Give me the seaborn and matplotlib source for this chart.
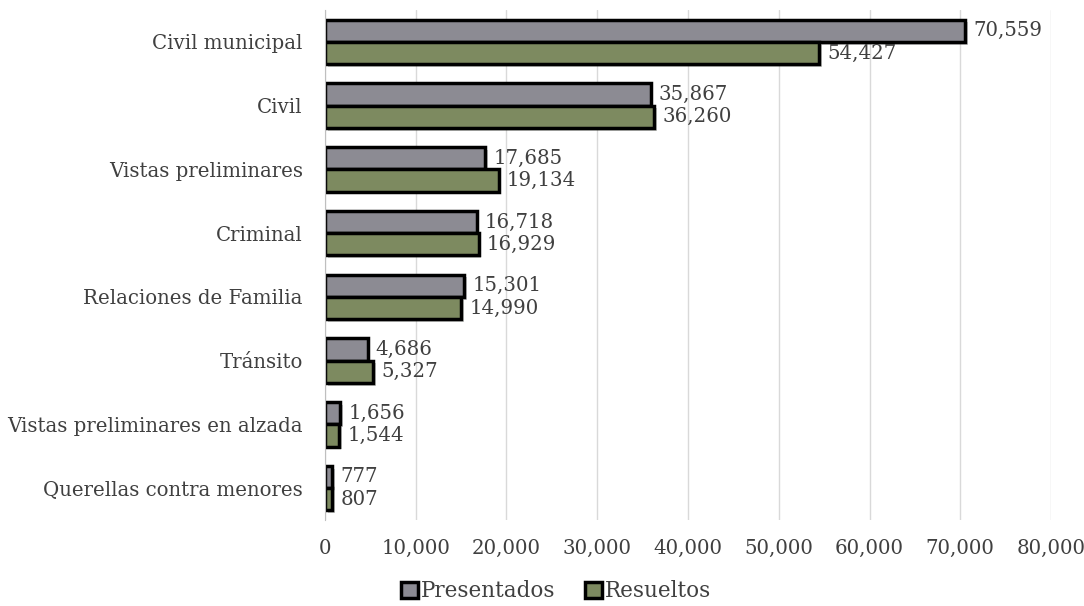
import matplotlib
matplotlib.use("Agg")
import matplotlib.pyplot as plt
import matplotlib.patheffects as pe
import seaborn as sns
import pandas as pd

# data
categorias = ["Civil municipal", "Civil", "Vistas preliminares", "Criminal",
              "Relaciones de Familia", "Tránsito",
              "Vistas preliminares en alzada", "Querellas contra menores"]
presentados = [70559, 35867, 17685, 16718, 15301, 4686, 1656, 777]
resueltos = [54427, 36260, 19134, 16929, 14990, 5327, 1544, 807]
series = ["Presentados", "Resueltos"]
colores = ["#8b8a94", "#7f9159"]

df = pd.DataFrame({
    "categoria": categorias * 2,
    "valor": presentados + resueltos,
    "serie": [series[0]] * len(categorias) + [series[1]] * len(categorias),
})

sns.set_style("white")
plt.rcParams["font.family"] = ["DejaVu Serif"]
text_color = "#404040"

fig = plt.figure(figsize=(10.84, 6.06), dpi=100)
ax = fig.add_axes([0.2998, 0.142, 0.6698, 0.8415])

sns.barplot(data=df, y="categoria", x="valor", hue="serie", orient="h",
            palette=colores, width=0.7, edgecolor="black", linewidth=2.5,
            ax=ax, legend=True)

for bars in ax.containers:
    for b in bars:
        b.set_path_effects([pe.SimplePatchShadow(offset=(2, -2), alpha=0.25), pe.Normal()])
    ax.bar_label(bars, labels=[f"{v:,.0f}" for v in bars.datavalues],
                 padding=6, fontsize=14.2, color=text_color)

ax.set_xlim(0, 80000)
ax.set_xticks(range(0, 80001, 10000))
ax.set_xticklabels([f"{t:,}" for t in range(0, 80001, 10000)])
ax.set_xlabel("")
ax.set_ylabel("")
ax.grid(axis="x", color="#d9d9d9", linewidth=1)
ax.set_axisbelow(True)
for s in ["top", "right", "bottom"]:
    ax.spines[s].set_visible(False)
ax.spines["left"].set_color("#bfbfbf")
ax.tick_params(axis="both", length=0, labelsize=14.2, colors=text_color)
ax.tick_params(axis="y", pad=16)
ax.tick_params(axis="x", pad=14)

handles, labels = ax.get_legend_handles_labels()
ax.legend(handles, labels, loc="center", bbox_to_anchor=(0.318, -0.14),
          ncol=2, frameon=False, fontsize=15.5, handlelength=0.8, handleheight=0.8,
          handletextpad=0.1, columnspacing=1.4, labelcolor=text_color)

fig.savefig("out.png", dpi=100)
